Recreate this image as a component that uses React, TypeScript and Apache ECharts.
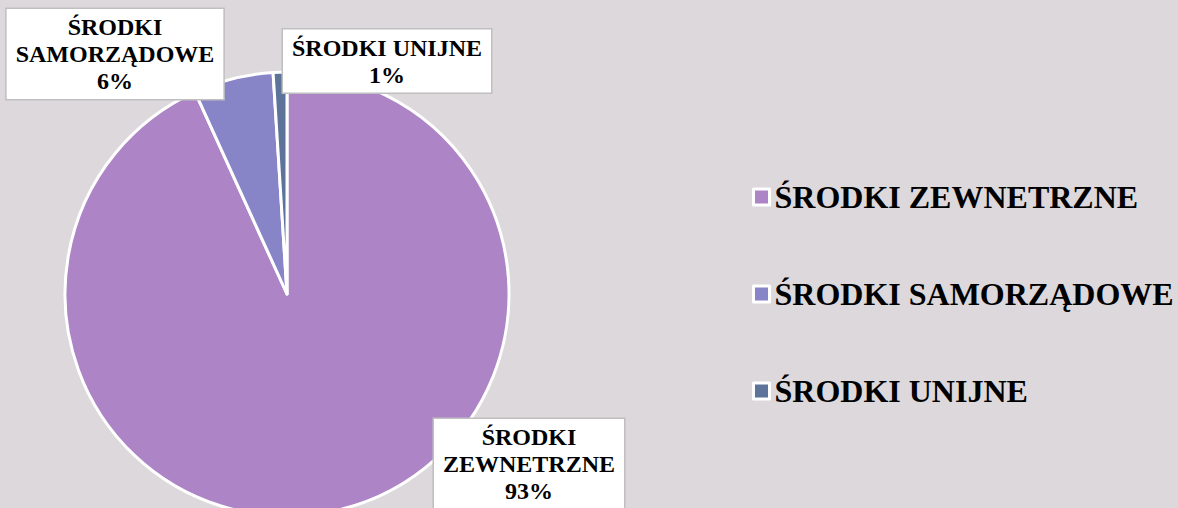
import React, { useEffect, useRef } from "react";
import * as echarts from "echarts";

const categories = ["ŚRODKI ZEWNETRZNE", "ŚRODKI SAMORZĄDOWE", "ŚRODKI UNIJNE"];
const values = [93.2, 5.8, 1.0];
const colors = ["#AD84C6", "#8784C7", "#5D739A"];
const labelCenters: [number, number][] = [
  [529, 464],
  [115, 54],
  [387, 61],
];

export default function App() {
  const ref = useRef<HTMLDivElement>(null);
  useEffect(() => {
    document.body.style.margin = "0";
    const chart = echarts.init(ref.current!, undefined, { renderer: "svg" });
    const font = "Liberation Serif";
    chart.setOption({
      animation: false,
      backgroundColor: "#DCD8DC",
      color: colors,
      textStyle: { fontFamily: font },
      legend: {
        orient: "vertical",
        left: 747,
        top: 176,
        itemGap: 65,
        itemWidth: 16,
        itemHeight: 16,
        icon: "rect",
        itemStyle: { borderColor: "#FFFFFF", borderWidth: 3 },
        textStyle: { fontFamily: font, fontWeight: "bold", fontSize: 32, color: "#000" },
        data: categories,
      },
      series: [
        {
          type: "pie",
          center: [287, 294],
          radius: 222,
          startAngle: 90,
          clockwise: true,
          itemStyle: { borderColor: "#FFFFFF", borderWidth: 3 },
          labelLine: { show: false },
          label: {
            show: true,
            position: "inside",
            fontFamily: font,
            fontWeight: "bold",
            fontSize: 24,
            lineHeight: 27,
            color: "#000",
            align: "center",
            overflow: "none",
            backgroundColor: "#FFFFFF",
            borderColor: "#BFBFBF",
            borderWidth: 1.5,
            padding: [5, 9, 4, 9],
            formatter: (p: any) =>
              (p.dataIndex === 2 ? p.name : p.name.replace(" ", "\n")) +
              "\n" +
              Math.round(p.percent) +
              "%",
          },
          labelLayout: (params: any) => {
            const c = labelCenters[params.dataIndex];
            return { x: c[0], y: c[1], align: "center", verticalAlign: "middle" };
          },
          data: categories.map((name, i) => ({ name, value: values[i] })),
        },
      ],
    });
    return () => chart.dispose();
  }, []);
  return <div ref={ref} style={{ width: 1178, height: 508 }} />;
}
